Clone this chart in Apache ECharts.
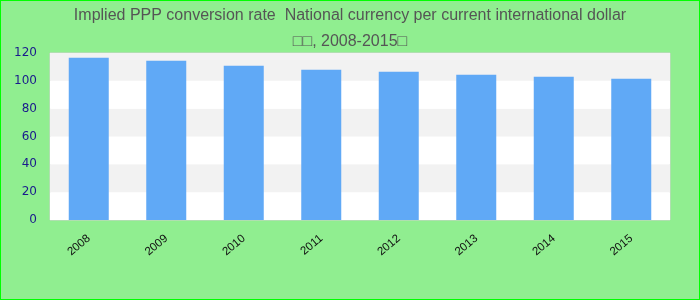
<!DOCTYPE html>
<html><head><meta charset="utf-8">
<script src="https://cdn.jsdelivr.net/npm/echarts@6/dist/echarts.min.js"></script>
<style>html,body{margin:0;padding:0;}#c{width:698px;height:298px;border:1px solid #00ff00;background:#90ee90;}</style>
</head><body><div id="c"></div>
<script>
const years = ['2008','2009','2010','2011','2012','2013','2014','2015'];
const values = [116.6, 114.5, 110.9, 108.0, 106.6, 104.4, 102.9, 101.5];
const yTicks = [0, 20, 40, 60, 80, 100, 120];
const titleText = 'Implied PPP conversion rate  National currency per current international dollar\n□□, 2008-2015□';

const chart = echarts.init(document.getElementById('c'), null, {renderer: 'canvas'});
chart.setOption({
  backgroundColor: '#90ee90',
  animation: false,
  title: {
    text: titleText, left: 'center', top: -3,
    textStyle: {color: '#555', fontSize: 16, fontWeight: 'normal', fontFamily: 'Liberation Sans, Arial', lineHeight: 26}
  },
  grid: {left: 49, right: 29, top: 52, bottom: 79, show: true, borderColor: '#d0d0d0', borderWidth: 1, backgroundColor: '#fff'},
  xAxis: {
    type: 'category', data: years,
    axisLine: {show: false}, axisTick: {show: false},
    axisLabel: {rotate: 40, margin: 17, color: '#111', fontSize: 11.5, fontFamily: 'Liberation Sans, Arial'}
  },
  yAxis: {
    type: 'value', min: yTicks[0], max: yTicks[yTicks.length-1], interval: 20,
    axisLine: {show: false}, axisTick: {show: false},
    splitLine: {show: false},
    splitArea: {show: true, areaStyle: {color: ['#ffffff', '#f2f2f2']}},
    axisLabel: {color: '#1a1a8c', fontSize: 12, margin: 13, fontFamily: 'DejaVu Sans'}
  },
  series: [{type: 'bar', data: values, barWidth: 40, itemStyle: {color: '#60a9f6'}}]
});
</script></body></html>
